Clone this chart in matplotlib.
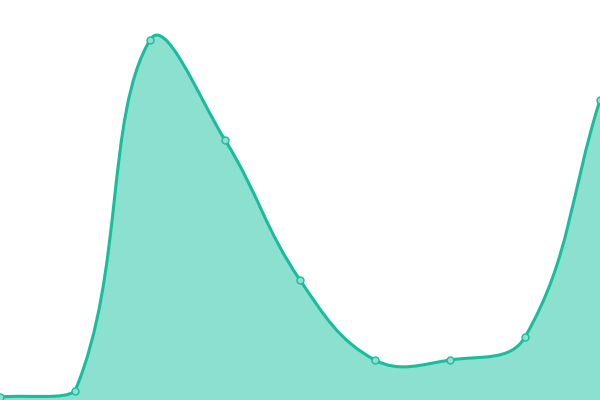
import matplotlib
matplotlib.use("Agg")
import matplotlib.pyplot as plt
from matplotlib.path import Path
from matplotlib.patches import PathPatch
import numpy as np

categories = list(range(9))
values = [3, 9, 360, 260, 120, 40, 40, 63, 300]

line_color = "#1abc9c"
fill_color = "#8be0d0"

fig = plt.figure(figsize=(6, 4), dpi=100)
ax = fig.add_axes([0, 0, 1, 1])
ax.set_xlim(0, 8)
ax.set_ylim(0, 400)
ax.axis("off")

x = np.array(categories, dtype=float)
y = np.array(values, dtype=float)
n = len(x)

# Tension-based spline (Chart.js style), distances measured in display pixels
sx, sy = 75.0, 1.0
tension = 0.4
cp_prev = []
cp_next = []
for i in range(n):
    p = np.array([x[i], y[i]])
    a = np.array([x[i - 1], y[i - 1]]) if i > 0 else p
    b = np.array([x[i + 1], y[i + 1]]) if i < n - 1 else p
    d01 = np.hypot((p[0] - a[0]) * sx, (p[1] - a[1]) * sy)
    d12 = np.hypot((b[0] - p[0]) * sx, (b[1] - p[1]) * sy)
    s = d01 + d12
    fa = tension * d01 / s if s else 0
    fb = tension * d12 / s if s else 0
    cprev = p - fa * (b - a)
    cnext = p + fb * (b - a)
    cprev = np.clip(cprev, [0, 0], [8, 400])
    cnext = np.clip(cnext, [0, 0], [8, 400])
    cp_prev.append(cprev)
    cp_next.append(cnext)

verts = [(x[0], y[0])]
codes = [Path.MOVETO]
for i in range(n - 1):
    verts += [tuple(cp_next[i]), tuple(cp_prev[i + 1]), (x[i + 1], y[i + 1])]
    codes += [Path.CURVE4] * 3

fill_verts = verts + [(x[-1], 0), (x[0], 0), (x[0], y[0])]
fill_codes = codes + [Path.LINETO, Path.LINETO, Path.CLOSEPOLY]
ax.add_patch(PathPatch(Path(fill_verts, fill_codes), facecolor=fill_color,
                       edgecolor="none", zorder=1))
ax.add_patch(PathPatch(Path(verts, codes), facecolor="none",
                       edgecolor=line_color, linewidth=2.2, zorder=2))
ax.plot(x, y, "o", markersize=5, markerfacecolor=fill_color,
        markeredgecolor=line_color, markeredgewidth=1.0, zorder=3)

fig.savefig("out.png", dpi=100)
